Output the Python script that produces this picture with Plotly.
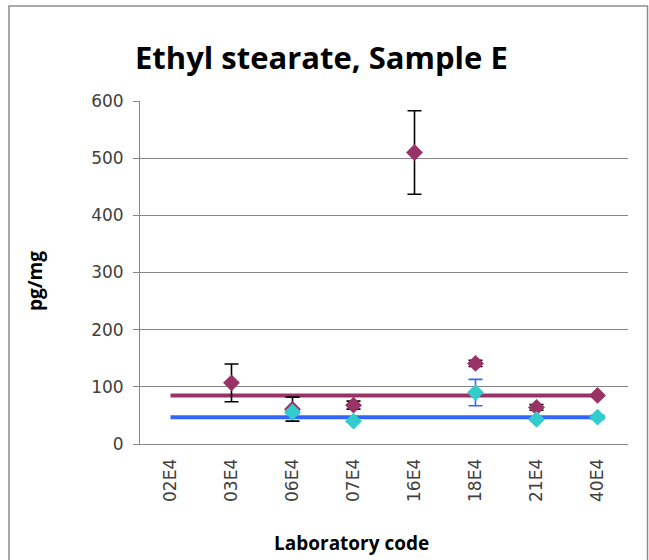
import plotly.graph_objects as go

TICK_FONT = "DejaVu Sans"
BOLD_FONT = "Open Sans"

# Lab results
labs = ["02E4", "03E4", "06E4", "07E4", "16E4", "18E4", "21E4", "40E4"]
purple_vals = [None, 107, 61, 68, 510, 141, 64, 85]
purple_err = [0, 33, 21, 7, 73, 5.5, 5, 0]
cyan_vals = [None, None, 56, 40, None, 90, 43, 47]
cyan_err = [0, 0, 3, 0, 0, 23, 0, 3]

# reference levels (horizontal lines)
purple_level = [85, 85]
blue_level = [47, 47]
level_x = [labs[0], labs[-1]]

PURPLE = "#993366"
CYAN = "#33CCCC"
BLUE = "#3366FF"
GRID = "#878787"

fig = go.Figure()

fig.add_trace(go.Scatter(x=level_x, y=purple_level, mode="lines",
                         line=dict(color=PURPLE, width=4), hoverinfo="skip"))
fig.add_trace(go.Scatter(x=level_x, y=blue_level, mode="lines",
                         line=dict(color=BLUE, width=4), hoverinfo="skip"))

fig.add_trace(go.Scatter(
    x=labs, y=purple_vals, mode="markers",
    marker=dict(symbol="diamond", size=13, color=PURPLE),
    error_y=dict(type="data", array=purple_err, visible=True,
                 color="black", thickness=1.6, width=7)))

fig.add_trace(go.Scatter(
    x=labs, y=cyan_vals, mode="markers",
    marker=dict(symbol="diamond", size=13, color=CYAN),
    error_y=dict(type="data", array=cyan_err, visible=True,
                 color=BLUE, thickness=1.6, width=7)))

# chart border (paper coords are the plot area: x 140..628, y 101..444 px)
fig.add_shape(type="rect", xref="paper", yref="paper",
              x0=(9 - 140) / 488, x1=(647.5 - 140) / 488,
              y0=(444 - 570) / 343, y1=(444 - 6) / 343,
              line=dict(color="#8c8c8c", width=1.5), layer="below")

fig.add_annotation(text="<b>Ethyl stearate, Sample E</b>", xref="paper", yref="paper",
                   x=(321 - 140) / 488, y=(444 - 57) / 343, showarrow=False,
                   xanchor="center", yanchor="middle",
                   font=dict(family=BOLD_FONT, size=31, color="black"))
fig.add_annotation(text="<b>Laboratory code</b>", xref="paper", yref="paper",
                   x=(351 - 140) / 488, y=(444 - 543) / 343, showarrow=False,
                   xanchor="center", yanchor="middle",
                   font=dict(family=BOLD_FONT, size=19, color="black"))
fig.add_annotation(text="<b>pg/mg</b>", xref="paper", yref="paper",
                   x=(35 - 140) / 488, y=(444 - 281) / 343, showarrow=False,
                   xanchor="center", yanchor="middle", textangle=-90,
                   font=dict(family=BOLD_FONT, size=19, color="black"))

fig.update_layout(
    width=649, height=560,
    margin=dict(l=140, r=21, t=101, b=116),
    paper_bgcolor="white", plot_bgcolor="white",
    showlegend=False,
    xaxis=dict(type="category", categoryorder="array", categoryarray=labs,
               range=[-0.5, 7.5], tickangle=-90, showgrid=False,
               showline=True, linecolor=GRID, linewidth=1, ticks="",
               ticklabelstandoff=7,
               tickfont=dict(family=TICK_FONT, size=17, color="#404040")),
    yaxis=dict(range=[0, 600], dtick=100, showgrid=True, gridcolor=GRID, gridwidth=1,
               showline=True, linecolor=GRID, linewidth=1, ticks="outside",
               ticklen=6, tickcolor=GRID, zeroline=False, ticklabelstandoff=6,
               tickfont=dict(family=TICK_FONT, size=17, color="#404040")),
)

# the page has a default 8px body margin; drop it so the chart sits at 0,0
fig.write_html("out.html", config={"displayModeBar": False},
               post_script="document.body.style.margin='0';")
